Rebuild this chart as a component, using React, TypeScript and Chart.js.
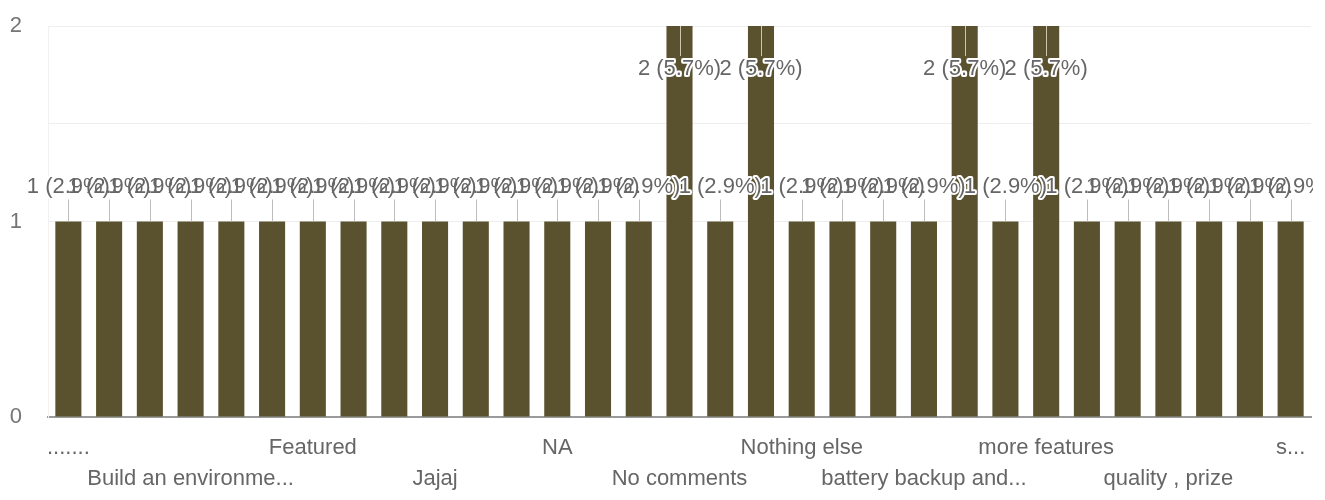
import React, { useEffect, useRef } from "react";
import { Chart, registerables } from "chart.js";

Chart.register(...registerables);

// Category labels (only every third answer is printed on the axis in the source chart)
const categories: string[] = [
  ".......", "", "", "Build an environme...", "", "", "Featured", "", "", "Jajaj", "", "",
  "NA", "", "", "No comments", "", "", "Nothing else", "", "", "battery backup and...", "", "",
  "more features", "", "", "quality , prize", "", "", "s...",
];
const counts: number[] = [
  1, 1, 1, 1, 1, 1, 1, 1, 1, 1, 1, 1, 1, 1, 1, 2, 1, 2, 1, 1, 1, 1, 2, 1, 2, 1, 1, 1, 1, 1, 1,
];
const yTickValues: number[] = [0, 1, 2];

const FONT = "'Liberation Sans', Arial, sans-serif";
const BAR_COLOR = "#5a522f";

const labelPlugin = {
  id: "barLabels",
  afterDatasetsDraw(chart: any) {
    const ctx = chart.ctx as CanvasRenderingContext2D;
    const meta = chart.getDatasetMeta(0);
    const area = chart.chartArea;
    const total = counts.reduce((a, b) => a + b, 0);
    ctx.save();
    ctx.beginPath();
    ctx.rect(0, 0, area.right + 2, chart.height);
    ctx.clip();
    ctx.font = `22px ${FONT}`;
    ctx.textAlign = "center";
    ctx.textBaseline = "middle";
    const items = meta.data.map((el: any, i: number) => {
      const v = counts[i];
      const text = `${v} (${((v / total) * 100).toFixed(1)}%)`;
      const top = el.y;
      let ty: number, l0: number, l1: number, inside = false;
      if (top - 34 - 14 < area.top) {
        inside = true;
        ty = top + 43;
        l0 = top;
        l1 = ty - 13;
      } else {
        ty = top - 35;
        l0 = ty + 13;
        l1 = top;
      }
      return { x: el.x, ty, l0, l1, text, inside };
    });
    items.forEach((it: any) => {
      ctx.strokeStyle = it.inside ? "rgba(215,210,190,0.9)" : "#bdbdbd";
      ctx.lineWidth = 1;
      const lx = Math.round(it.x) + 0.5;
      ctx.beginPath();
      ctx.moveTo(lx, it.l0);
      ctx.lineTo(lx, it.l1);
      ctx.stroke();
    });
    ctx.strokeStyle = "#ffffff";
    ctx.lineWidth = 4;
    ctx.lineJoin = "round";
    items.forEach((it: any) => ctx.strokeText(it.text, it.x, it.ty));
    ctx.fillStyle = "#666666";
    items.forEach((it: any) => ctx.fillText(it.text, it.x, it.ty));
    ctx.restore();
  },
};

export default function App() {
  const canvasRef = useRef<HTMLCanvasElement | null>(null);

  useEffect(() => {
    document.body.style.margin = "0";
    const canvas = canvasRef.current;
    if (!canvas) return;
    const chart = new Chart(canvas, {
      type: "bar",
      data: {
        labels: categories,
        datasets: [
          {
            data: counts,
            backgroundColor: BAR_COLOR,
            borderWidth: 0,
            categoryPercentage: 1,
            barPercentage: 0.64,
          },
        ],
      },
      plugins: [labelPlugin],
      options: {
        animation: false,
        responsive: false,
        layout: { padding: { top: 26, right: 14, bottom: 0, left: 0 } },
        plugins: {
          legend: { display: false },
          tooltip: { enabled: false },
        },
        scales: {
          x: {
            grid: { display: false, drawTicks: false },
            border: { display: true, color: "#9a9a9a", width: 2 },
            afterFit: (scale: any) => {
              scale.height = 83;
              scale.paddingLeft = 0;
              scale.paddingRight = 0;
            },
            ticks: {
              autoSkip: false,
              maxRotation: 0,
              minRotation: 0,
              padding: 16,
              color: "#666666",
              font: { family: FONT, size: 22, lineHeight: 1.4 },
              callback: (_v: any, i: number) => {
                const l = categories[i];
                if (!l) return "";
                return i % 6 === 0 ? l : ["", l];
              },
            },
          },
          y: {
            min: 0,
            max: 2,
            afterFit: (scale: any) => {
              scale.width = 48;
              scale.paddingTop = 0;
              scale.paddingBottom = 0;
            },
            afterBuildTicks: (scale: any) => {
              const t: any[] = [];
              for (let v = 0; v <= 2; v += 0.5) t.push({ value: v });
              scale.ticks = t;
            },
            grid: {
              drawTicks: false,
              color: (c: any) => {
                const v = c.tick ? c.tick.value : 0;
                if (v === 0 || v === 0.5) return "rgba(0,0,0,0)";
                return "#eeeeee";
              },
            },
            border: { display: true, color: "#f1f1f1", width: 1 },
            ticks: {
              padding: 26,
              color: "#757575",
              font: { family: FONT, size: 22 },
              callback: (v: any) => (yTickValues.includes(Number(v)) ? String(v) : ""),
            },
          },
        },
      },
    });
    return () => chart.destroy();
  }, []);

  return (
    <div style={{ position: "absolute", left: 0, top: 0, width: 1325, height: 500, background: "#fff" }}>
      <canvas ref={canvasRef} width={1325} height={500} style={{ display: "block" }} />
    </div>
  );
}
